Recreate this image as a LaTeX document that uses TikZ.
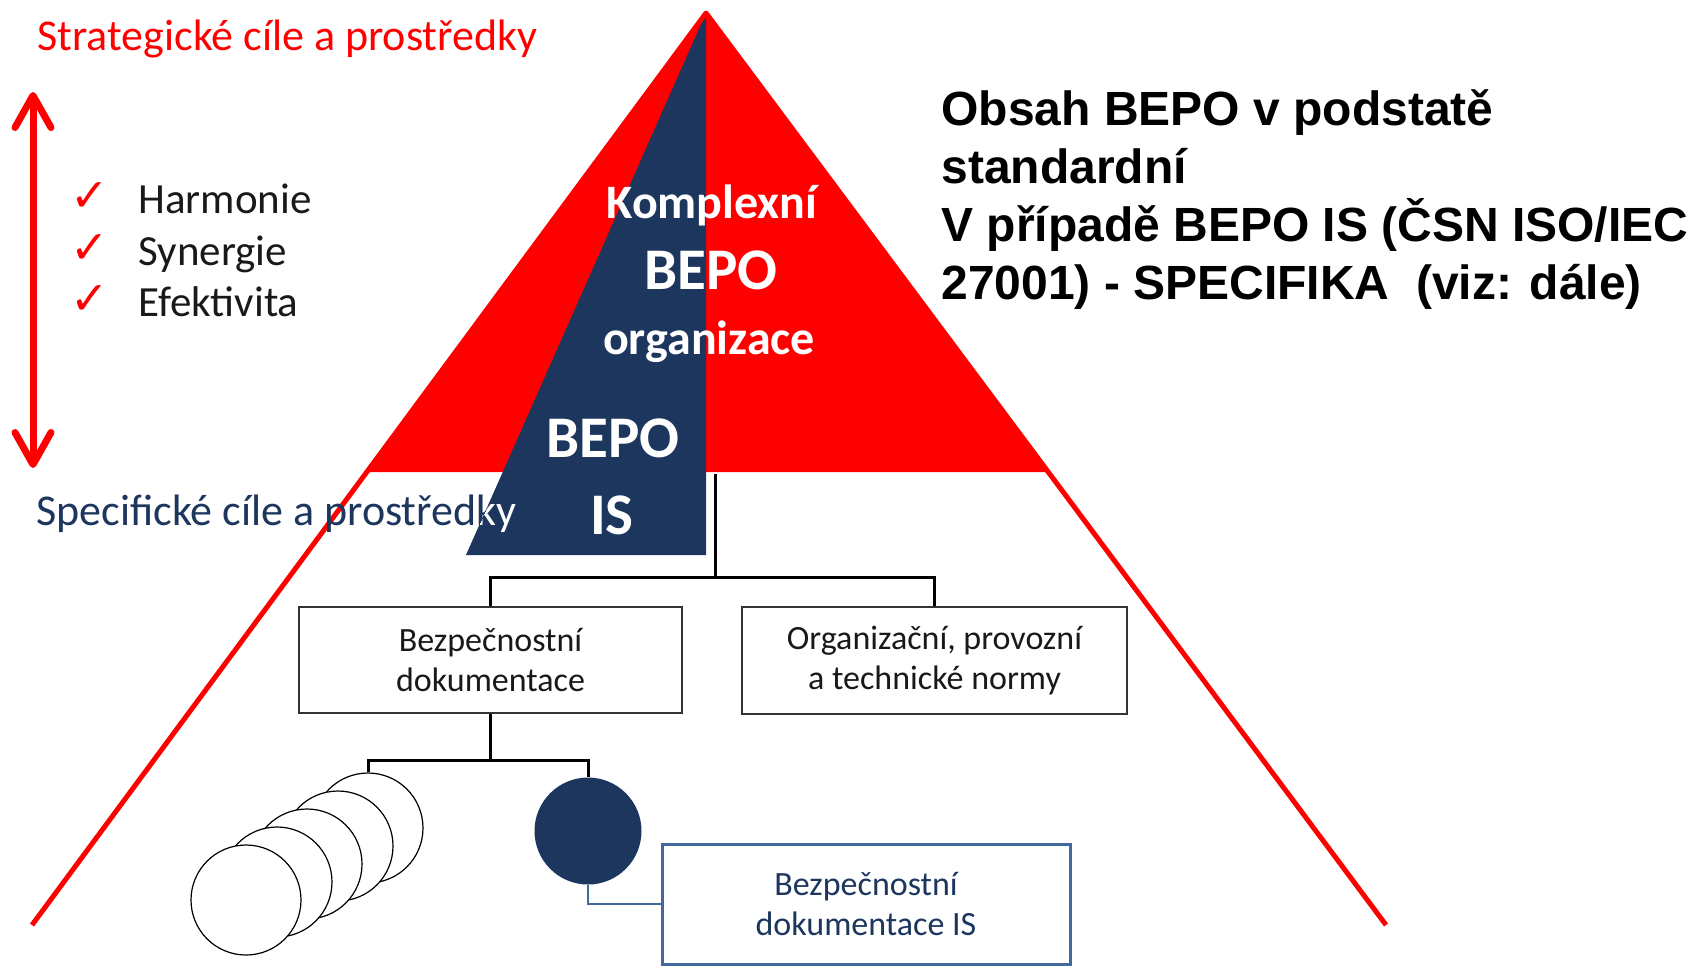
\documentclass[tikz,border=0pt]{standalone}
\usepackage{fontspec}
\setmainfont{Carlito}
\newfontfamily\arialfont{Liberation Sans}
\newfontfamily\symfont{DejaVu Sans}
\usetikzlibrary{arrows.meta}
\definecolor{pred}{RGB}{255,0,0}
\definecolor{navy}{RGB}{28,54,94}
\definecolor{boxblue}{RGB}{65,105,155}
\begin{document}
\begin{tikzpicture}[x=0.5pt,y=-0.5pt,
  lbl/.style={inner sep=0pt, anchor=base west},
  sidetxt/.style={lbl, font=\fontsize{22}{26}\selectfont},
  itemtxt/.style={lbl, text=black!90, font=\fontsize{21.5}{26}\selectfont},
  righttxt/.style={lbl, font=\arialfont\bfseries\fontsize{24}{29}\selectfont},
  wtxt/.style={inner sep=0pt, anchor=base, text=white, font=\bfseries\fontsize{24}{28}\selectfont},
  bigtxt/.style={inner sep=0pt, anchor=base, text=white, font=\bfseries\fontsize{29.5}{34}\selectfont},
  docbox/.style={draw=black!80, line width=1pt, fill=white, align=center, inner sep=0pt,
                 font=\fontsize{17}{20}\selectfont, text=black!90},
  conn/.style={draw=black, line width=1.5pt},
  bconn/.style={draw=boxblue, line width=1.3pt},
  disc/.style={circle, draw=black, line width=0.6pt, fill=white, minimum size=55pt, inner sep=0pt},
  chk/.style={text=pred, font=\symfont\fontsize{23}{23}\selectfont, inner sep=0pt, anchor=base},
  redarrow/.style={draw=pred, line width=3.5pt,
     {Straight Barb[length=16pt,width=18pt,round]}-{Straight Barb[length=16pt,width=18pt,round]}},
]
\useasboundingbox (0,0) rectangle (1691,966);

% pyramid
\coordinate (apex) at (706,13);
\coordinate (lb) at (32,925);
\coordinate (rb) at (1386,925);
\fill[pred] (apex) -- (367,472) -- (1049,472) -- cycle;
\fill[navy] (apex) -- (706,555) -- (466,555) -- cycle;
\draw[pred, line width=2.5pt, line join=round] (lb) -- (apex) -- (rb);

% left side
\node[sidetxt, text=pred] (strat) at (37,50) {Strategické cíle a prostředky};
\coordinate (atop) at (33,92);
\coordinate (abot) at (33,468);
\draw[redarrow] (atop) -- (abot);
\node[chk] (k1) at (90,211) {✓};
\node[chk] (k2) at (90,263) {✓};
\node[chk] (k3) at (90,314) {✓};
\node[itemtxt] (h) at (138,213) {Harmonie};
\node[itemtxt] (s) at (138,265) {Synergie};
\node[itemtxt] (e) at (138,316) {Efektivita};
\node[sidetxt, text=navy] (spec) at (36,525) {Specifické cíle a prostředky};
\begin{scope}
  \clip (apex) -- (706,555) -- (466,555) -- cycle;
  \node[sidetxt, text=white] (specw) at (36,525) {Specifické cíle a prostředky};
\end{scope}

% texts in the pyramid
\node[wtxt] (kom) at (712,218) {Komplexní};
\node[bigtxt] (bepo1) at (711,289) {BEPO};
\node[wtxt] (org) at (709,354) {organizace};
\node[bigtxt] (bepo2) at (613,457) {BEPO};
\node[bigtxt] (is) at (612,534) {IS};

% right text
\node[righttxt] (r1) at (941,125) {Obsah BEPO v podstatě};
\node[righttxt] (r2) at (941,183) {standardní};
\node[righttxt] (r3) at (941,241) {V případě BEPO IS (ČSN ISO/IEC};
\node[righttxt] (r4) at (941,299) {27001) - SPECIFIKA\ \ (viz: dále)};

% boxes
\node[docbox, minimum width=191.5pt, minimum height=53pt] (box1) at (490.5,660) {Bezpečnostní\\dokumentace};
\node[docbox, minimum width=192.5pt, minimum height=53.5pt] (box2) at (934.5,660.5) {Organizační, provozní\\a technické normy};
\node[docbox, draw=boxblue, line width=1.5pt, text=navy, minimum width=204pt, minimum height=60pt] (box3) at (866,904) {Bezpečnostní\\dokumentace IS};

% discs
\node[disc] (c5) at (368,828) {};
\node[disc] (c4) at (338,846) {};
\node[disc] (c3) at (307,864) {};
\node[disc] (c2) at (277,882) {};
\node[disc] (c1) at (246,900) {};
\node[circle, fill=navy, minimum size=53.5pt, inner sep=0pt] (dark) at (588,831) {};

% connectors
\coordinate (top) at (715,474);
\coordinate (j1) at (715,577);
\coordinate (j2) at (490.5,760);
\draw[conn] (top) -- (j1);
\draw[conn] (box1.north) |- (j1) -| (box2.north);
\draw[conn] (box1.south) -- (j2);
\draw[conn] (c5.north) |- (j2) -| (dark.north);
\draw[bconn] (dark.south) |- (box3.west);
\end{tikzpicture}
\end{document}
